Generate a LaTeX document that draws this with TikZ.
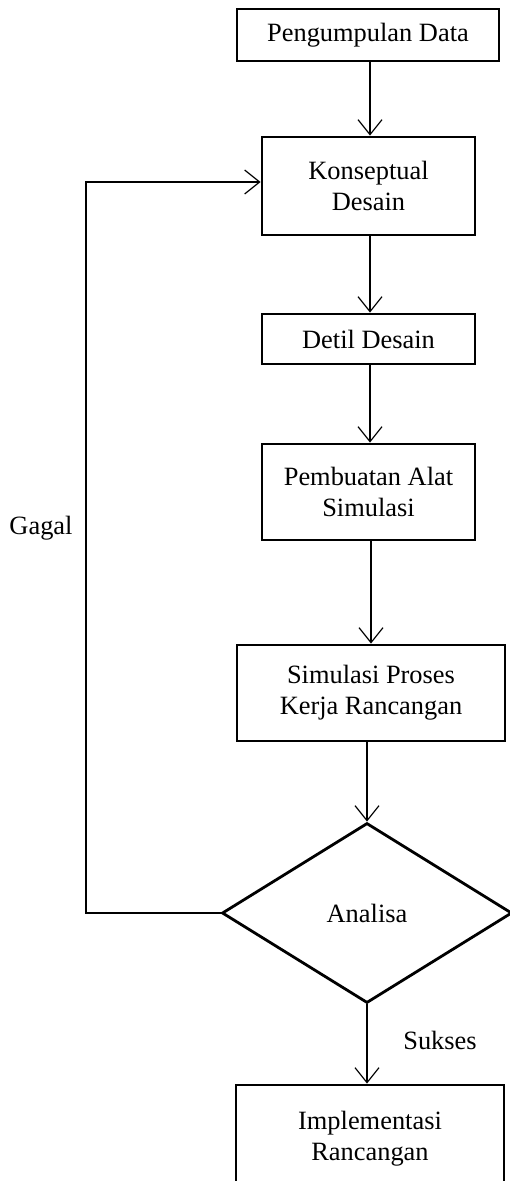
\documentclass[tikz,border=0pt]{standalone}
\usepackage{fontspec}
\setmainfont{Liberation Serif}
\usetikzlibrary{arrows.meta,shapes.geometric}
\begin{document}
\begin{tikzpicture}[x=1pt,y=-1pt,
  every node/.style={font=\fontsize{26.4}{31}\selectfont},
  box/.style={draw, line width=2.8pt, align=center, inner sep=0pt},
  arr/.style={line width=1.2pt, -{Straight Barb[length=15pt,width=24pt,line width=1.2pt]}},
  plain/.style={line width=1.2pt}]
\clip (0,0) rectangle (510,1181);
\useasboundingbox (0,0) rectangle (510,1181);
\fill[white] (0,0) rectangle (510,1181);
\node[box, minimum width=262pt, minimum height=52pt] (p1) at (368,35) {Pengumpulan Data};
\node[box, minimum width=213pt, minimum height=98pt] (p2) at (368.5,186) {Konseptual\\Desain};
\node[box, minimum width=213pt, minimum height=50pt] (p3) at (368.5,339) {Detil Desain};
\node[box, minimum width=213pt, minimum height=96pt] (p4) at (368.5,492) {Pembuatan Alat\\Simulasi};
\node[box, minimum width=268pt, minimum height=96pt] (p5) at (371,693) {Simulasi Proses\\Kerja Rancangan};
\node[box, diamond, minimum width=290pt, minimum height=180pt] (d) at (367,913) {Analisa};
\node[box, minimum width=268pt, minimum height=108pt] (p6) at (370,1139) {Implementasi\\Rancangan};
\node (gagal) at (41,528) {Gagal};
\node (sukses) at (440,1040) {Sukses};
\coordinate (fb) at (86,913);
\draw[arr] (p1.south -| 370,0) -- (p2.north -| 370,0);
\draw[arr] (p2.south -| 370,0) -- (p3.north -| 370,0);
\draw[arr] (p3.south -| 370,0) -- (p4.north -| 370,0);
\draw[arr] (p4.south -| 371,0) -- (p5.north -| 371,0);
\draw[arr] (p5.south -| d.north) -- (d.north);
\draw[arr] (d.south) -- (d.south |- p6.north);
\draw[arr] (d.west) -- (fb) |- ([yshift=4pt]p2.west);
\end{tikzpicture}
\end{document}
